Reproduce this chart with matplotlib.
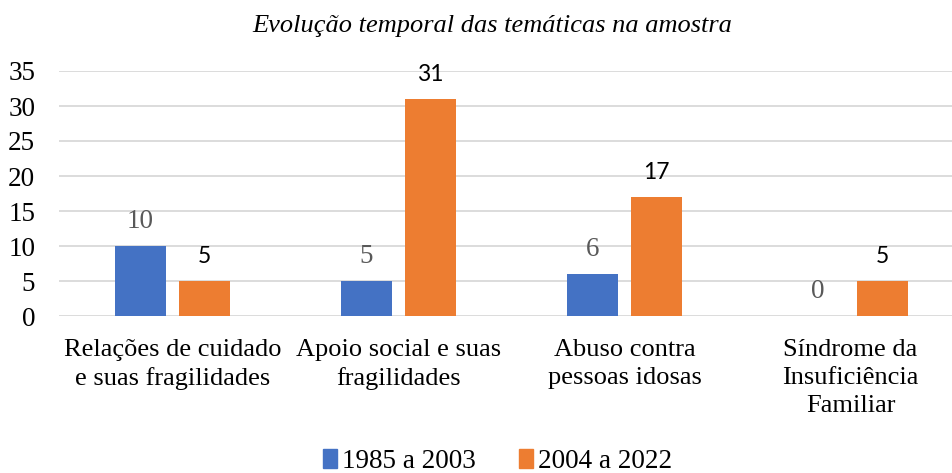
import numpy as np
import matplotlib.pyplot as plt
from matplotlib.patches import Patch

categories = ["Relações de cuidado\ne suas fragilidades",
              "Apoio social e suas\nfragilidades",
              "Abuso contra\npessoas idosas",
              "Síndrome da\nInsuficiência\nFamiliar"]
periodo_1 = [10, 5, 6, 0]
periodo_2 = [5, 31, 17, 5]
series_names = ["1985 a 2003", "2004 a 2022"]
yticks = [0, 5, 10, 15, 20, 25, 30, 35]

blue = "#4472C4"
orange = "#ED7D31"
serif = ["Liberation Serif", "DejaVu Serif"]

fig = plt.figure(figsize=(9.53, 4.73), dpi=100)
ax = fig.add_axes([59.5 / 953, 1 - 316 / 473, 904 / 953, 245 / 473])

x = np.arange(len(categories))
w = 0.225
off = 0.1427
b1 = ax.bar(x - off, periodo_1, width=w, color=blue, zorder=3)
b2 = ax.bar(x + off, periodo_2, width=w, color=orange, zorder=3)

for xi, v in zip(x, periodo_1):
    ax.annotate(str(v), (xi - off, v), xytext=(0, 9), textcoords="offset points",
                ha="center", va="bottom", fontsize=19.5, color="#595959", family=serif)
for xi, v in zip(x, periodo_2):
    ax.annotate(str(v), (xi + off, v), xytext=(0, 10), textcoords="offset points",
                ha="center", va="bottom", fontsize=16.5, color="black",
                family=["Lato", "DejaVu Sans"])

ax.set_xlim(-0.5, len(categories) - 0.5)
ax.set_ylim(0, 35)
ax.set_yticks(yticks)
ax.set_xticks(x)
ax.set_xticklabels(categories, family=serif, fontsize=19, linespacing=1.36, va="top")
for lbl in ax.get_yticklabels():
    lbl.set_family(serif)
    lbl.set_fontsize(19.5)
ax.tick_params(axis="both", length=0)
ax.tick_params(axis="y", pad=17.5)
ax.tick_params(axis="x", pad=16.5)
ax.grid(axis="y", color="#D9D9D9", linewidth=1.3, zorder=0)
for s in ax.spines.values():
    s.set_visible(False)

fig.text(492 / 953, 1 - 26 / 473, "Evolução temporal das temáticas na amostra",
         ha="center", va="center", fontsize=19, style="italic", family=serif)

handles = [Patch(color=blue), Patch(color=orange)]
fig.legend(handles, series_names, loc="center", bbox_to_anchor=(498 / 953, 1 - 461 / 473),
           ncol=2, frameon=False, prop={"family": serif, "size": 19.5},
           handlelength=0.5, handleheight=0.7, handletextpad=0.2, columnspacing=1.6)

fig.savefig("out.png", dpi=100)
